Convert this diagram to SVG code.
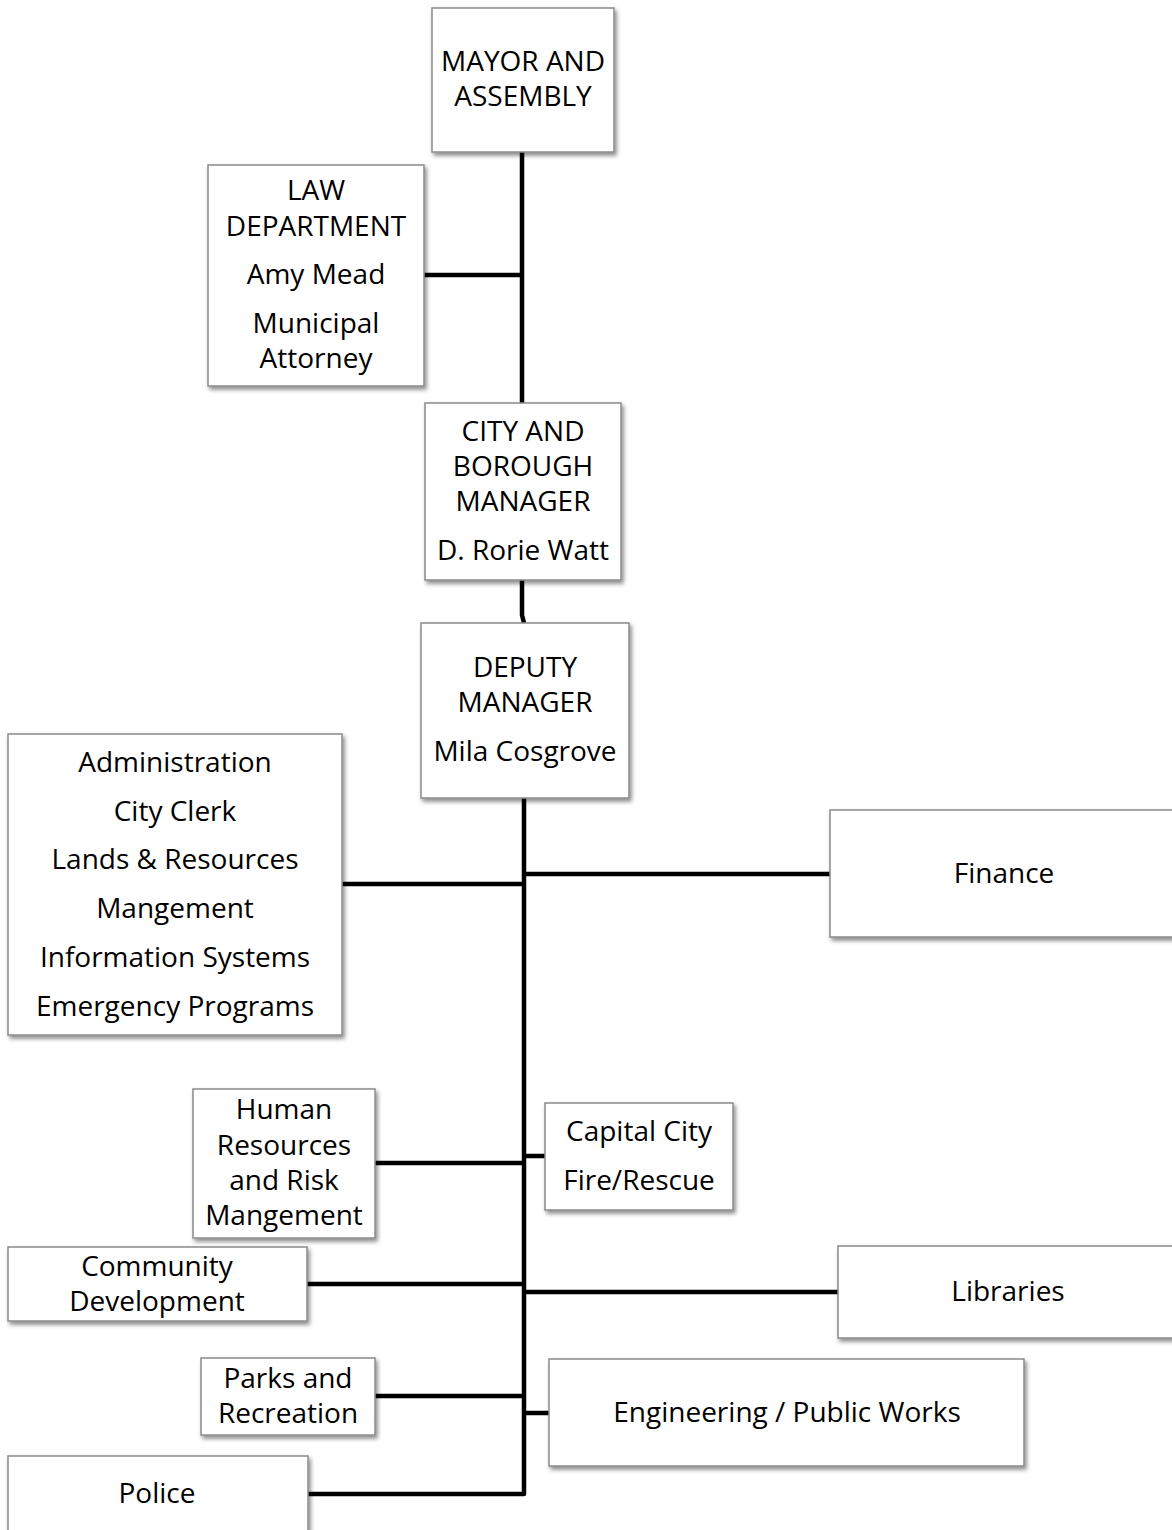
<svg xmlns="http://www.w3.org/2000/svg" width="1172" height="1530" viewBox="0 0 1172 1530">
<defs>
<filter id="sh" x="-10%" y="-10%" width="130%" height="130%">
<feDropShadow dx="2" dy="3" stdDeviation="2" flood-color="#000" flood-opacity="0.45"/>
</filter>
</defs>
<style>
.box{fill:#fff;stroke:#8a8a8a;stroke-width:1.5;filter:url(#sh)}
.t{font-family:"Open Sans","Noto Sans",sans-serif;font-size:28px;fill:#000;text-anchor:middle}
.c{stroke:#000;stroke-width:4.5;fill:none;stroke-linejoin:round}
</style>
<rect width="1172" height="1530" fill="#fff"/>
<g id="connectors">
<path class="c" d="M522 152V403"/>
<path class="c" d="M424 275H522"/>
<path class="c" d="M522 580V615L524 623"/>
<path class="c" d="M524 798V1494H308"/>
<path class="c" d="M342 884H524"/>
<path class="c" d="M524 874H830"/>
<path class="c" d="M375 1163H524"/>
<path class="c" d="M524 1156H545"/>
<path class="c" d="M307 1284H524"/>
<path class="c" d="M524 1292H838"/>
<path class="c" d="M375 1396H524"/>
<path class="c" d="M524 1413H549"/>
</g>
<g id="mayor">
<rect class="box" x="432" y="8" width="182" height="144"/>
<text class="t" x="523" y="71">MAYOR AND</text>
<text class="t" x="523" y="106">ASSEMBLY</text>
</g>
<g id="law">
<rect class="box" x="208" y="165" width="216" height="221"/>
<text class="t" x="316" y="200">LAW</text>
<text class="t" x="316" y="236">DEPARTMENT</text>
<text class="t" x="316" y="284">Amy Mead</text>
<text class="t" x="316" y="333">Municipal</text>
<text class="t" x="316" y="368">Attorney</text>
</g>
<g id="manager">
<rect class="box" x="425" y="403" width="196" height="177"/>
<text class="t" x="523" y="441">CITY AND</text>
<text class="t" x="523" y="476">BOROUGH</text>
<text class="t" x="523" y="511">MANAGER</text>
<text class="t" x="523" y="560">D. Rorie Watt</text>
</g>
<g id="deputy">
<rect class="box" x="421" y="623" width="208" height="175"/>
<text class="t" x="525" y="677">DEPUTY</text>
<text class="t" x="525" y="712">MANAGER</text>
<text class="t" x="525" y="761">Mila Cosgrove</text>
</g>
<g id="admin">
<rect class="box" x="8" y="734" width="334" height="301"/>
<text class="t" x="175" y="772">Administration</text>
<text class="t" x="175" y="821">City Clerk</text>
<text class="t" x="175" y="869">Lands &amp; Resources</text>
<text class="t" x="175" y="918">Mangement</text>
<text class="t" x="175" y="967">Information Systems</text>
<text class="t" x="175" y="1016">Emergency Programs</text>
</g>
<g id="finance">
<rect class="box" x="830" y="810" width="360" height="127"/>
<text class="t" x="1004" y="883">Finance</text>
</g>
<g id="hr">
<rect class="box" x="193" y="1089" width="182" height="149"/>
<text class="t" x="284" y="1119">Human</text>
<text class="t" x="284" y="1155">Resources</text>
<text class="t" x="284" y="1190">and Risk</text>
<text class="t" x="284" y="1225">Mangement</text>
</g>
<g id="fire">
<rect class="box" x="545" y="1103" width="188" height="107"/>
<text class="t" x="639" y="1141">Capital City</text>
<text class="t" x="639" y="1190">Fire/Rescue</text>
</g>
<g id="community">
<rect class="box" x="8" y="1247" width="299" height="74"/>
<text class="t" x="157" y="1276">Community</text>
<text class="t" x="157" y="1311">Development</text>
</g>
<g id="libraries">
<rect class="box" x="838" y="1246" width="352" height="92"/>
<text class="t" x="1008" y="1301">Libraries</text>
</g>
<g id="parks">
<rect class="box" x="201" y="1358" width="174" height="77"/>
<text class="t" x="288" y="1388">Parks and</text>
<text class="t" x="288" y="1423">Recreation</text>
</g>
<g id="engineering">
<rect class="box" x="549" y="1359" width="475" height="107"/>
<text class="t" x="787" y="1422">Engineering / Public Works</text>
</g>
<g id="police">
<rect class="box" x="8" y="1456" width="300" height="90"/>
<text class="t" x="157" y="1503">Police</text>
</g>
</svg>
